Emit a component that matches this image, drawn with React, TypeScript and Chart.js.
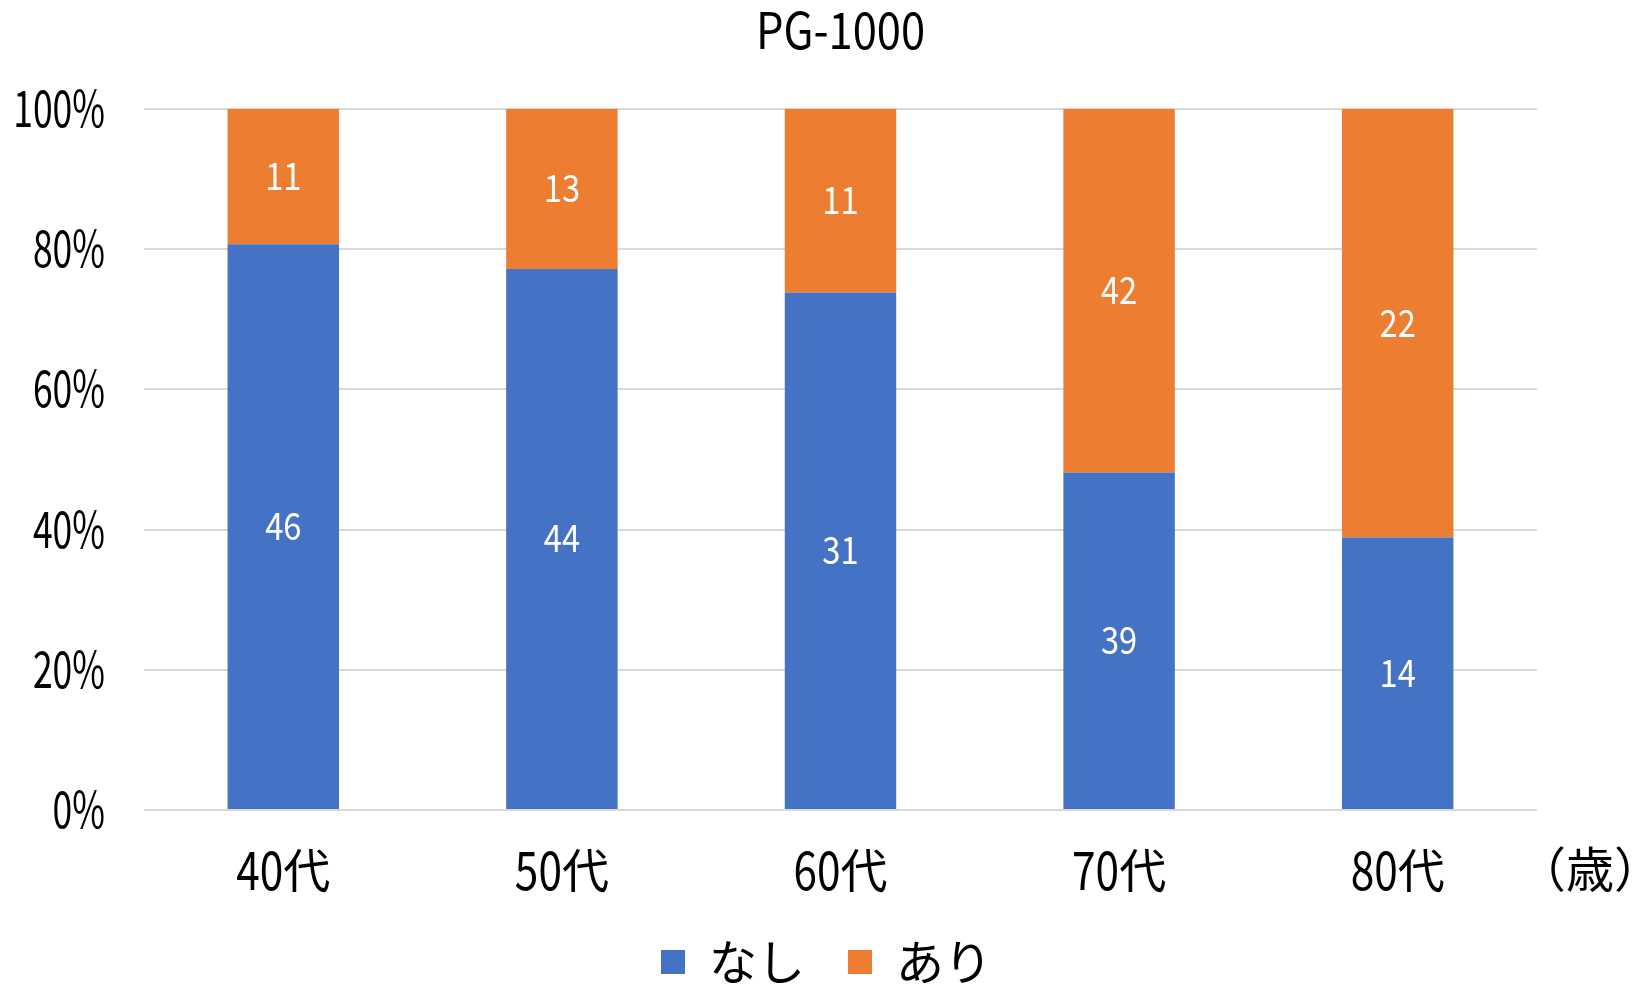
import React, { useEffect, useRef } from "react";
import { Chart, registerables } from "chart.js";

Chart.register(...registerables);

const chartTitle = "PG-1000";
const categories = ["40代", "50代", "60代", "70代", "80代"];
const seriesNames = ["なし", "あり"];
const nashiCounts = [46, 44, 31, 39, 14];
const ariCounts = [11, 13, 11, 42, 22];
const yTickValues = [0, 20, 40, 60, 80, 100];
const unitLabel = "（歳）";
const colors = ["#4472C4", "#ED7D31"];

const FONT = '"Noto Sans CJK JP", "Noto Sans", sans-serif';

const totals = categories.map((_, i) => nashiCounts[i] + ariCounts[i]);
const nashiPct = nashiCounts.map((v, i) => (v / totals[i]) * 100);
const ariPct = ariCounts.map((v, i) => (v / totals[i]) * 100);
const rawCounts = [nashiCounts, ariCounts];

type TextStyle = { asciiSize: number; asciiSx: number; cjkSize: number; cjkSx: number; color: string };

function drawMixed(ctx: CanvasRenderingContext2D, text: string, x: number, y: number, align: "left" | "center" | "right", st: TextStyle) {
  const runs = text.match(/[\x00-\x7F]+|[^\x00-\x7F]+/g) || [];
  const parts = runs.map((r) => {
    const ascii = /^[\x00-\x7F]+$/.test(r);
    const size = ascii ? st.asciiSize : st.cjkSize;
    const sx = ascii ? st.asciiSx : st.cjkSx;
    ctx.font = `${size}px ${FONT}`;
    const w = ctx.measureText(r).width * sx;
    return { r, size, sx, w };
  });
  const total = parts.reduce((a, p) => a + p.w, 0);
  let cur = align === "left" ? x : align === "center" ? x - total / 2 : x - total;
  ctx.save();
  ctx.fillStyle = st.color;
  ctx.textAlign = "left";
  ctx.textBaseline = "middle";
  for (const p of parts) {
    ctx.save();
    ctx.font = `${p.size}px ${FONT}`;
    ctx.translate(cur, y);
    ctx.scale(p.sx, 1);
    ctx.fillText(p.r, 0, 0);
    ctx.restore();
    cur += p.w;
  }
  ctx.restore();
}

const dataLabelPlugin = {
  id: "dataLabels",
  afterDatasetsDraw(chart: any) {
    const ctx = chart.ctx;
    chart.data.datasets.forEach((_ds: any, di: number) => {
      const meta = chart.getDatasetMeta(di);
      meta.data.forEach((el: any, i: number) => {
        const y = (el.y + el.base) / 2;
        drawMixed(ctx, String(rawCounts[di][i]), el.x, y - 1, "center", {
          asciiSize: 38, asciiSx: 0.86, cjkSize: 38, cjkSx: 1, color: "#ffffff",
        });
      });
    });
  },
};

const textPlugin = {
  id: "customTexts",
  afterDraw(chart: any) {
    const ctx = chart.ctx;
    const area = chart.chartArea;
    const xScale = chart.scales.x;
    const yScale = chart.scales.y;
    // title
    drawMixed(ctx, chartTitle, (area.left + area.right) / 2, 30, "center", {
      asciiSize: 50, asciiSx: 0.87, cjkSize: 50, cjkSx: 1, color: "#000",
    });
    // y tick labels
    yTickValues.forEach((v) => {
      drawMixed(ctx, `${v}%`, area.left - 39, yScale.getPixelForValue(v) - 1, "right", {
        asciiSize: 50, asciiSx: 0.71, cjkSize: 50, cjkSx: 1, color: "#000",
      });
    });
    // x tick labels
    categories.forEach((c, i) => {
      drawMixed(ctx, c, xScale.getPixelForValue(i), area.bottom + 60, "center", {
        asciiSize: 53, asciiSx: 0.8, cjkSize: 47, cjkSx: 1, color: "#000",
      });
    });
    // unit label
    drawMixed(ctx, unitLabel, area.right - 19, area.bottom + 59, "left", {
      asciiSize: 48, asciiSx: 1, cjkSize: 48, cjkSx: 1, color: "#000",
    });
  },
};

export default function App() {
  const canvasRef = useRef<HTMLCanvasElement | null>(null);

  useEffect(() => {
    if (!canvasRef.current) return;
    const chart = new Chart(canvasRef.current, {
      type: "bar",
      data: {
        labels: categories,
        datasets: [
          {
            label: seriesNames[0],
            data: nashiPct,
            backgroundColor: colors[0],
            borderWidth: 0,
            barPercentage: 0.4,
            categoryPercentage: 1,
          },
          {
            label: seriesNames[1],
            data: ariPct,
            backgroundColor: colors[1],
            borderWidth: 0,
            barPercentage: 0.4,
            categoryPercentage: 1,
          },
        ],
      },
      options: {
        animation: false,
        responsive: true,
        maintainAspectRatio: false,
        layout: { padding: { left: 116, right: 95, top: 109, bottom: 0 } },
        plugins: {
          title: { display: false },
          legend: {
            display: true,
            position: "bottom",
            labels: {
              color: "#000",
              font: { family: FONT, size: 48 },
              boxWidth: 24,
              boxHeight: 24,
              padding: 43,
            },
          },
          tooltip: { enabled: false },
        },
        scales: {
          x: {
            stacked: true,
            grid: { display: false },
            border: { display: false },
            ticks: { display: false },
            afterFit(scale: any) {
              scale.height = 85;
            },
          },
          y: {
            stacked: true,
            min: 0,
            max: 100,
            afterBuildTicks(scale: any) {
              scale.ticks = yTickValues.map((v) => ({ value: v }));
            },
            afterFit(scale: any) {
              scale.width = 28;
            },
            grid: { color: "#d9d9d9", lineWidth: 2, drawTicks: false },
            border: { display: false },
            ticks: { display: false },
          },
        },
      },
      plugins: [dataLabelPlugin, textPlugin],
    });
    return () => chart.destroy();
  }, []);

  return (
    <div
      style={{
        position: "fixed",
        left: 0,
        top: 0,
        width: 1632,
        height: 985,
        overflow: "hidden",
        background: "#fff",
      }}
    >
      <div style={{ position: "relative", width: 1632, height: 996 }}>
        <canvas ref={canvasRef} />
      </div>
    </div>
  );
}
